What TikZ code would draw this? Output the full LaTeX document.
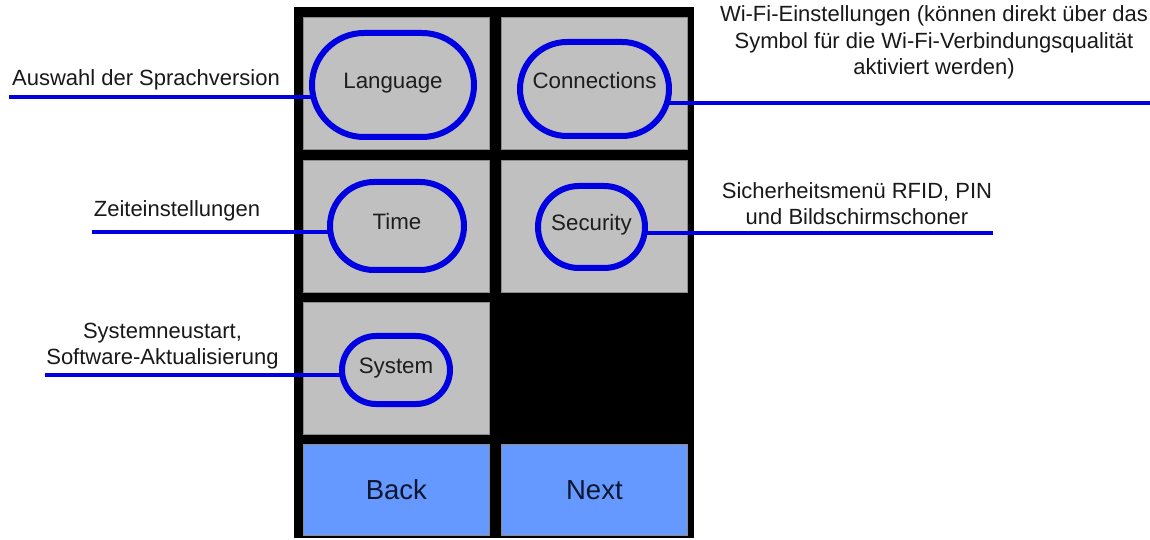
\documentclass[tikz,border=0pt]{standalone}
\usepackage{fontspec}
\setmainfont{Liberation Sans}
\usetikzlibrary{shapes.misc}
\definecolor{cellgray}{RGB}{192,192,192}
\definecolor{celledge}{RGB}{140,140,140}
\definecolor{pillblue}{RGB}{0,0,225}
\definecolor{btnblue}{RGB}{102,153,255}
\definecolor{btntext}{RGB}{12,22,48}
\definecolor{pilltext}{RGB}{30,30,30}
\begin{document}
\begin{tikzpicture}[x=1bp,y=-1bp,
  cell/.style={draw=celledge, line width=0.8bp, fill=cellgray, minimum width=186bp, minimum height=132bp, inner sep=0pt, anchor=north west},
  btn/.style={draw=celledge, line width=0.8bp, fill=btnblue, minimum width=186bp, minimum height=91bp, inner sep=0pt, anchor=north west,
     text=btntext, font=\fontsize{27.5bp}{31bp}\selectfont},
  pill/.style={rounded rectangle, draw=pillblue, line width=6bp, inner sep=0pt, text=pilltext,
     font=\fontsize{22.3bp}{26bp}\selectfont, text height=0.716em, text depth=0pt},
  leader/.style={draw=pillblue, line width=4bp},
  lbl/.style={text=black!90, inner sep=0pt, font=\fontsize{22bp}{26.5bp}\selectfont}
]
\useasboundingbox (0,0) rectangle (1150,540);
\fill[white] (0,0) rectangle (1150,540);
% panel
\fill[black] (294,7) rectangle (694,538);
% cells
\node[cell] (c11) at (303,17) {};
\node[cell] (c12) at (501,17) {};
\node[cell] (c21) at (303,160) {};
\node[cell] (c22) at (501,160) {};
\node[cell] (c31) at (303,302) {};
\node[btn] (back) at (303,444) {Back};
\node[btn] (next) at (501,444) {Next};
% pills
\node[pill, minimum width=162bp, minimum height=104bp] (lang) at (393,85) {Language};
\node[pill, minimum width=149bp, minimum height=94bp, text depth=9bp] (conn) at (594.5,89) {Connections};
\node[pill, minimum width=134bp, minimum height=88bp] (time) at (397,226) {Time};
\node[pill, minimum width=107bp, minimum height=82bp] (sec) at (591.5,227) {Security};
\node[pill, minimum width=108bp, minimum height=68bp] (sys) at (396,370) {System};
% labels (base = baseline of the last line)
\node[lbl, anchor=base] (t-lang) at (146,86) {Auswahl der Sprachversion};
\node[lbl, anchor=base] (t-time) at (177,217) {Zeiteinstellungen};
\node[lbl, align=center, anchor=base] (t-sys) at (162.5,365) {Systemneustart,\\Software-Aktualisierung};
\node[lbl, align=center, anchor=base] (t-conn) at (934,75) {Wi-Fi-Einstellungen (können direkt über das\\Symbol für die Wi-Fi-Verbindungsqualität\\aktiviert werden)};
\node[lbl, align=center, anchor=base] (t-sec) at (857,225) {Sicherheitsmenü RFID, PIN\\und Bildschirmschoner};
% leader ends
\coordinate (e-lang) at (9,97);
\coordinate (e-time) at (92,232);
\coordinate (e-sys) at (45,375);
\coordinate (e-conn) at (1150,103);
\coordinate (e-sec) at (993,233);
% leaders
\draw[leader] (e-lang) -- ([xshift=4bp]lang.west |- e-lang);
\draw[leader] (e-time) -- ([xshift=4bp]time.west |- e-time);
\draw[leader] (e-sys) -- ([xshift=4bp]sys.west |- e-sys);
\draw[leader] ([xshift=-4bp]conn.east |- e-conn) -- (e-conn);
\draw[leader] ([xshift=-4bp]sec.east |- e-sec) -- (e-sec);
\end{tikzpicture}
\end{document}
